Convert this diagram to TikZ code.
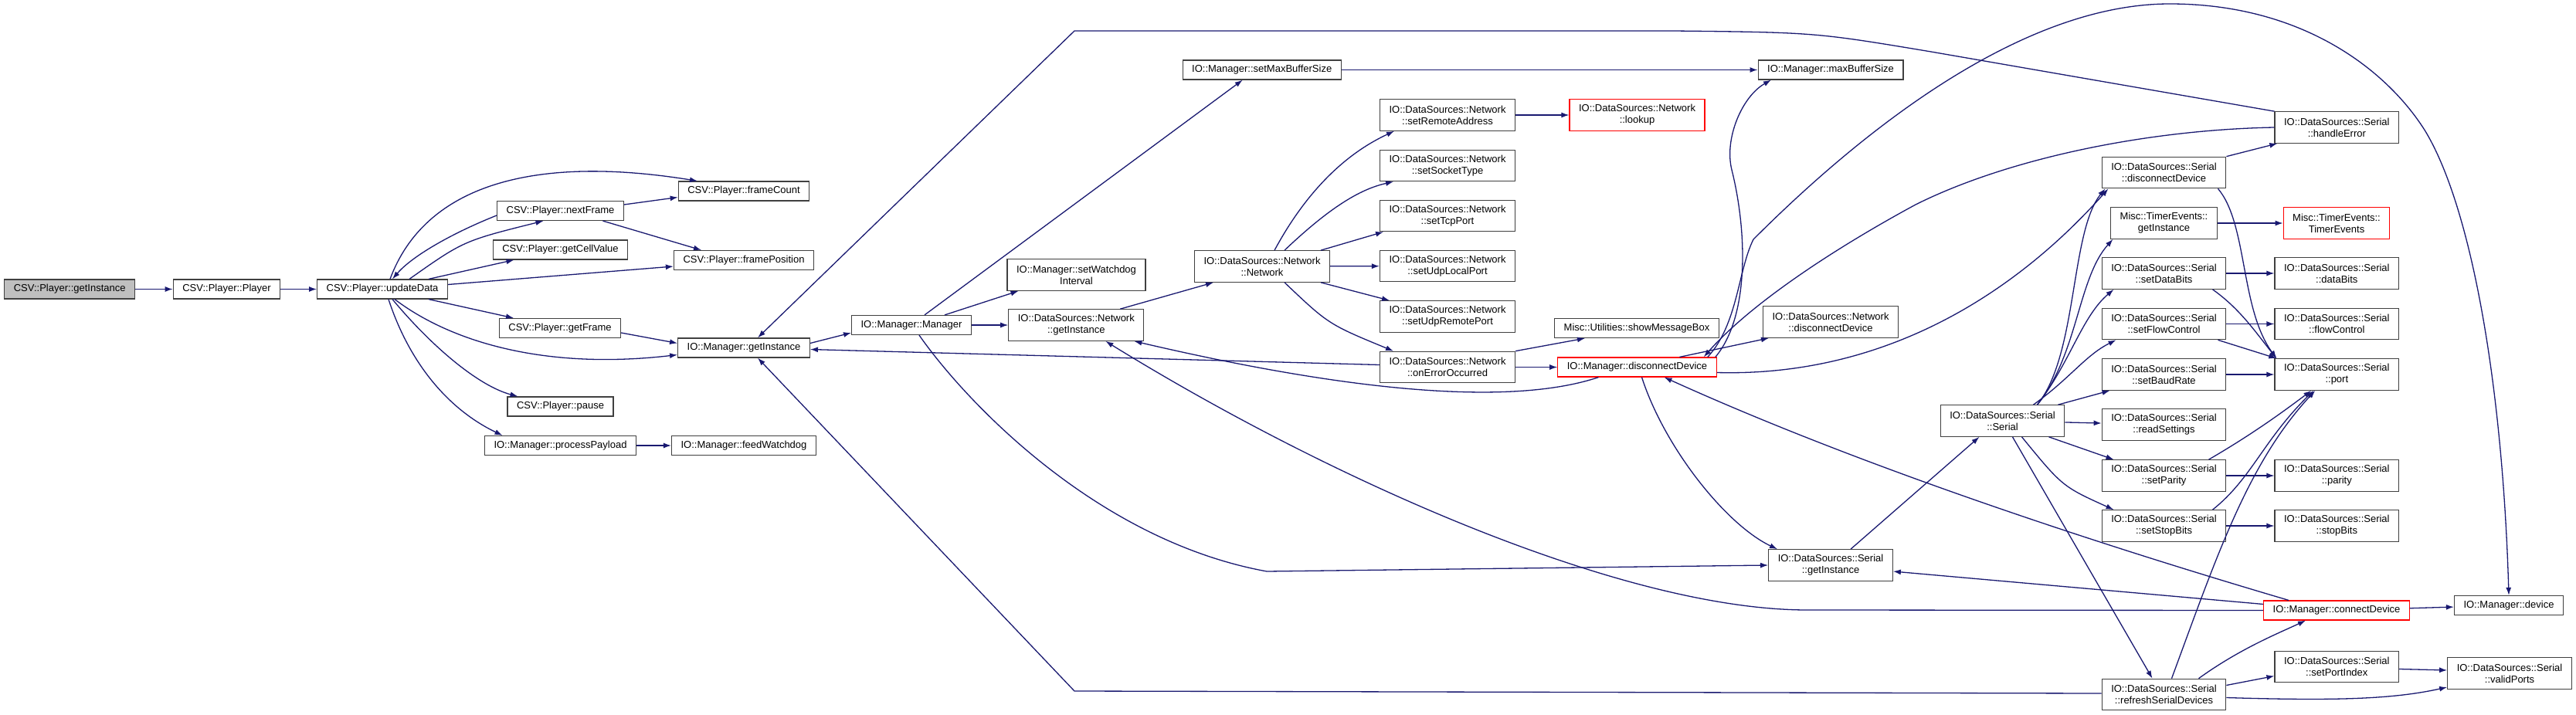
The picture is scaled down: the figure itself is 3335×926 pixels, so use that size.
\documentclass[tikz,border=0pt]{standalone}
\usepackage{fontspec}
\setmainfont{Liberation Sans}
\usetikzlibrary{arrows.meta}
\definecolor{edgeblue}{HTML}{191970}
\definecolor{rootgray}{HTML}{BFBFBF}
\definecolor{boxline}{HTML}{404040}
\begin{document}
\begin{tikzpicture}[x=1pt, y=-1pt, font=\fontsize{13}{15}\selectfont,
    >={Latex[length=10pt,width=7pt]},
    fn/.style={draw=boxline, line width=1.2pt, fill=white, inner xsep=12pt, inner ysep=0pt,
               minimum height=25pt, text height=9.5pt, text depth=3pt},
    fn2/.style={fn, text height=, text depth=, minimum height=40.5pt, align=center},
    missing/.style={draw=red},
    rootfn/.style={fill=rootgray},
    call/.style={->, draw=edgeblue, line width=1.3pt}]

        \useasboundingbox (0,0) rectangle (3335,926);

        % ==========================================
        % 1. CSV player
        % ==========================================
        \node[fn, rootfn] (root)   at (90.2,374.5) {CSV::Player::getInstance};
        \node[fn] (player) at (293.5,374.5) {CSV::Player::Player};
        \node[fn] (upd)    at (495,374.5)   {CSV::Player::updateData};
        \node[fn] (next)   at (725.5,273)   {CSV::Player::nextFrame};
        \node[fn] (cell)   at (725.5,323.5) {CSV::Player::getCellValue};
        \node[fn] (getf)   at (725,425)     {CSV::Player::getFrame};
        \node[fn] (pause)  at (725.5,526.5) {CSV::Player::pause};
        \node[fn] (proc)   at (725.5,577)   {IO::Manager::processPayload};
        \node[fn] (fcount) at (963,247.5)   {CSV::Player::frameCount};
        \node[fn] (fpos)   at (963,337)     {CSV::Player::framePosition};
        \node[fn] (mgi)    at (963,450.5)   {IO::Manager::getInstance};
        \node[fn] (feed)   at (963,577)     {IO::Manager::feedWatchdog};

        % ==========================================
        % 2. IO manager and network source
        % ==========================================
        \node[fn]  (mgr)    at (1180,421)    {IO::Manager::Manager};
        \node[fn2] (swi)    at (1393.5,356)  {IO::Manager::setWatchdog\\Interval};
        \node[fn2] (ngi)    at (1393.3,421)  {IO::DataSources::Network\\::getInstance};
        \node[fn]  (smbs)   at (1633.7,90.5) {IO::Manager::setMaxBufferSize};
        \node[fn2] (nnet)   at (1634,345)    {IO::DataSources::Network\\::Network};
        \node[fn]  (mbs)    at (2370,90.5)   {IO::Manager::maxBufferSize};
        \node[fn2] (sra)    at (1874,149)    {IO::DataSources::Network\\::setRemoteAddress};
        \node[fn2, missing] (lookup) at (2119.5,149) {IO::DataSources::Network\\::lookup};
        \node[fn2] (sst)    at (1874,214.5)  {IO::DataSources::Network\\::setSocketType};
        \node[fn2] (stcp)   at (1874,279.5)  {IO::DataSources::Network\\::setTcpPort};
        \node[fn2] (sulp)   at (1874,344.5)  {IO::DataSources::Network\\::setUdpLocalPort};
        \node[fn2] (surp)   at (1874,410)    {IO::DataSources::Network\\::setUdpRemotePort};
        \node[fn2] (oeo)    at (1874,475.5)  {IO::DataSources::Network\\::onErrorOccurred};
        \node[fn]  (smb)    at (2119,425)    {Misc::Utilities::showMessageBox};
        \node[fn, missing] (mdc) at (2119.5,475.5) {IO::Manager::disconnectDevice};
        \node[fn2] (ndc)    at (2370,417)    {IO::DataSources::Network\\::disconnectDevice};

        % ==========================================
        % 3. Serial source
        % ==========================================
        \node[fn2] (sgi)  at (2370,732)    {IO::DataSources::Serial\\::getInstance};
        \node[fn2] (sser) at (2592.5,545)  {IO::DataSources::Serial\\::Serial};
        \node[fn2] (sdc)  at (2801.5,223.5) {IO::DataSources::Serial\\::disconnectDevice};
        \node[fn2] (tgi)  at (2801.5,289)  {Misc::TimerEvents::\\getInstance};
        \node[fn2] (sdb)  at (2801.5,354)  {IO::DataSources::Serial\\::setDataBits};
        \node[fn2] (sfc)  at (2801.5,419.5) {IO::DataSources::Serial\\::setFlowControl};
        \node[fn2] (sbr)  at (2801.5,485)  {IO::DataSources::Serial\\::setBaudRate};
        \node[fn2] (rs)   at (2801.5,550)  {IO::DataSources::Serial\\::readSettings};
        \node[fn2] (spar) at (2801.5,616)  {IO::DataSources::Serial\\::setParity};
        \node[fn2] (ssb)  at (2801.5,681)  {IO::DataSources::Serial\\::setStopBits};
        \node[fn2] (rsd)  at (2801.5,899.5) {IO::DataSources::Serial\\::refreshSerialDevices};
        \node[fn2] (he)   at (3025.3,165)  {IO::DataSources::Serial\\::handleError};
        \node[fn2, missing] (te) at (3025,289) {Misc::TimerEvents::\\TimerEvents};
        \node[fn2] (db)   at (3025.3,354)  {IO::DataSources::Serial\\::dataBits};
        \node[fn2] (fc)   at (3025.3,419.5) {IO::DataSources::Serial\\::flowControl};
        \node[fn2] (port) at (3025.3,485)  {IO::DataSources::Serial\\::port};
        \node[fn2] (par)  at (3025.3,616)  {IO::DataSources::Serial\\::parity};
        \node[fn2] (sb)   at (3025.3,681)  {IO::DataSources::Serial\\::stopBits};
        \node[fn, missing] (cd) at (3025,790.5) {IO::Manager::connectDevice};
        \node[fn2] (spi)  at (3025.3,863.5) {IO::DataSources::Serial\\::setPortIndex};
        \node[fn]  (dev)  at (3248,784)    {IO::Manager::device};
        \node[fn2] (vp)   at (3249,872)    {IO::DataSources::Serial\\::validPorts};

        % ==========================================
        % 4. Straight calls
        % ==========================================
        \foreach \a/\b in {root/player, player/upd, proc/feed, mgr/ngi, smbs/mbs,
                           nnet/sulp, sra/lookup, oeo/mdc, cd/dev, sser/rs, tgi/te,
                           sdb/db, sfc/fc, sbr/port, spar/par, ssb/sb}
            \draw[call] (\a) -- (\b);

        % ==========================================
        % 5. Calls out of the CSV player
        % ==========================================
        \draw[call] ([xshift=10pt]upd.north) .. controls (550,240) and (690,200) .. ([xshift=-60pt]fcount.north);
        \draw[call] ([xshift=35pt]upd.north) .. controls (600,312) .. ([xshift=-22pt]next.south);
        \draw[call] ([yshift=-6pt]next.west) .. controls (590,300) and (535,330) .. ([xshift=13pt]upd.north);
        \draw[call] ([yshift=8pt]next.east) -- ([yshift=-8pt]fcount.west);
        \draw[call] ([xshift=55pt]next.south) -- ([xshift=-55pt]fpos.north);
        \draw[call] ([xshift=60pt]upd.north) -- ([xshift=-60pt]cell.south);
        \draw[call] ([yshift=6pt]upd.east) -- ([yshift=-8pt]fpos.west);
        \draw[call] ([xshift=60pt]upd.south) -- ([xshift=-60pt]getf.north);
        \draw[call] ([xshift=16pt]upd.south) .. controls (580,440) and (700,480) .. ([yshift=-9pt]mgi.west);
        \draw[call] ([yshift=-6pt]getf.east) -- ([yshift=6pt]mgi.west);
        \draw[call] ([xshift=13pt]upd.south) .. controls (560,450) and (620,500) .. ([xshift=-55pt]pause.north);
        \draw[call] ([xshift=8pt]upd.south) .. controls (530,470) and (580,530) .. ([xshift=-75pt]proc.north);

        % ==========================================
        % 6. Calls out of the manager and network source
        % ==========================================
        \draw[call] ([yshift=6pt]mgi.east) -- ([yshift=-10pt]mgr.west);
        \draw[call] ([xshift=17pt]mgr.north) -- ([xshift=-25pt]smbs.south);
        \draw[call] ([xshift=43pt]mgr.north) -- ([xshift=-75pt]swi.south);
        \draw[call] ([xshift=10pt]mgr.south) .. controls (1250,520) and (1420,700) .. (1640,740) -- (sgi.west);
        \draw[call] ([xshift=57pt]ngi.north) -- ([xshift=-63pt]nnet.south);
        \draw[call] ([xshift=16pt]nnet.north) .. controls (1690,250) and (1740,200) .. ([xshift=-69pt]sra.south);
        \draw[call] ([xshift=29pt]nnet.north) .. controls (1720,270) and (1760,245) .. ([xshift=-70pt]sst.south);
        \draw[call] ([xshift=76pt]nnet.north) -- ([xshift=-83pt]stcp.south);
        \draw[call] ([xshift=76pt]nnet.south) -- ([xshift=-75pt]surp.north);
        \draw[call] ([xshift=29pt]nnet.south) .. controls (1720,420) .. ([xshift=-70pt]oeo.north);
        \draw[call] ([yshift=3pt]oeo.west) -- ([yshift=-2pt]mgi.east);
        \draw[call] (oeo.north east) -- ([xshift=-67pt]smb.south);

        % ==========================================
        % 7. Calls out of disconnectDevice / connectDevice
        % ==========================================
        \draw[call] ([xshift=-50pt]mdc.south) .. controls (1960,525) and (1760,510) .. ([xshift=75pt]ngi.south);
        \draw[call] ([xshift=-2pt]mdc.north east) .. controls (2265,410) and (2262,300) .. (2242,220)
                    .. controls (2232,180) and (2255,125) .. ([xshift=-77pt]mbs.south);
        \draw[call] ([xshift=-12pt]mdc.north east) .. controls (2250,420) and (2250,350) .. (2270,310)
                    .. controls (2380,200) and (2600,5) .. (2809,5)
                    .. controls (2980,5) and (3090,90) .. (3140,170)
                    .. controls (3200,270) and (3240,500) .. (dev.north);
        \draw[call] ([xshift=55pt]mdc.north) -- ([xshift=-80pt]ndc.south);
        \draw[call] ([yshift=-7pt]mdc.east) .. controls (2430,488) and (2600,390) .. ([xshift=-72pt]sdc.south);
        \draw[call] ([xshift=6pt]mdc.south) .. controls (2155,580) and (2235,680) .. ([xshift=-69pt]sgi.north);
        \draw[call] ([xshift=-62pt]cd.north) .. controls (2700,700) and (2400,600) .. ([xshift=35pt]mdc.south);
        \draw[call] ([yshift=8pt]cd.west) -- ([yshift=-8pt]sgi.east);
        \draw[call] (cd.west) -- (2340,790) .. controls (2100,790) and (1720,620) .. ([xshift=38pt]ngi.south);

        % ==========================================
        % 8. Calls out of the serial source
        % ==========================================
        \draw[call] ([xshift=26pt]sgi.north) -- ([xshift=-30pt]sser.south);
        \draw[call] ([xshift=45pt]sser.north) .. controls (2690,460) and (2680,300) .. ([xshift=-76pt]sdc.south);
        \draw[call] ([xshift=45pt]sser.north) .. controls (2690,460) and (2690,360) .. ([xshift=-66pt]tgi.south);
        \draw[call] ([xshift=45pt]sser.north) .. controls (2680,470) and (2695,410) .. ([xshift=-65pt]sdb.south);
        \draw[call] ([xshift=40pt]sser.north) .. controls (2680,490) and (2700,460) .. ([xshift=-62pt]sfc.south);
        \draw[call] ([xshift=72pt]sser.north) -- ([xshift=-70pt]sbr.south);
        \draw[call] ([xshift=60pt]sser.south) -- ([xshift=-65pt]spar.north);
        \draw[call] ([xshift=25pt]sser.south) .. controls (2670,630) .. ([xshift=-65pt]ssb.north);
        \draw[call] ([xshift=13pt]sser.south) -- ([xshift=-15pt]rsd.north);
        \draw[call] (sdc.north east) -- ([xshift=-77pt]he.south);
        \draw[call] ([xshift=70pt]sdc.south) .. controls (2910,290) and (2900,400) .. ([xshift=-78pt]port.north);
        \draw[call] ([xshift=63pt]sdb.south) .. controls (2900,400) and (2920,430) .. ([xshift=-78pt]port.north);
        \draw[call] ([xshift=70pt]sfc.south) -- ([xshift=-78pt]port.north);
        \draw[call] ([xshift=58pt]spar.north) .. controls (2920,560) and (2960,530) .. ([xshift=-33pt]port.south);
        \draw[call] ([xshift=63pt]ssb.north) .. controls (2915,620) and (2930,570) .. ([xshift=-30pt]port.south);
        \draw[call] ([xshift=10pt]rsd.north) .. controls (2870,720) and (2910,600) .. ([xshift=-28pt]port.south);
        \draw[call] ([xshift=45pt]rsd.north) .. controls (2900,840) and (2950,820) .. ([xshift=-40pt]cd.south);
        \draw[call] ([yshift=12pt]rsd.east) -- ([yshift=-12pt]spi.west);
        \draw[call] ([yshift=-3pt]spi.east) -- ([yshift=4pt]vp.west);
        \draw[call] ([yshift=-4pt]rsd.east) .. controls (3030,908) and (3100,905) .. ([yshift=-18pt]vp.west);
        \draw[call] ([yshift=1.5pt]rsd.west) -- (1391,895) -- ([xshift=18pt]mgi.south);

        % ==========================================
        % 9. Calls out of handleError
        % ==========================================
        \draw[call] (he.north west) -- (2500,67) .. controls (2350,42) .. (2167,40) -- (1391,40) -- ([xshift=18pt]mgi.north);
        \draw[call] (he.west) .. controls (2780,168) and (2600,205) .. (2480,265)
                    .. controls (2360,330) and (2260,400) .. ([xshift=-17pt]mdc.north east);

    \end{tikzpicture}
\end{document}
